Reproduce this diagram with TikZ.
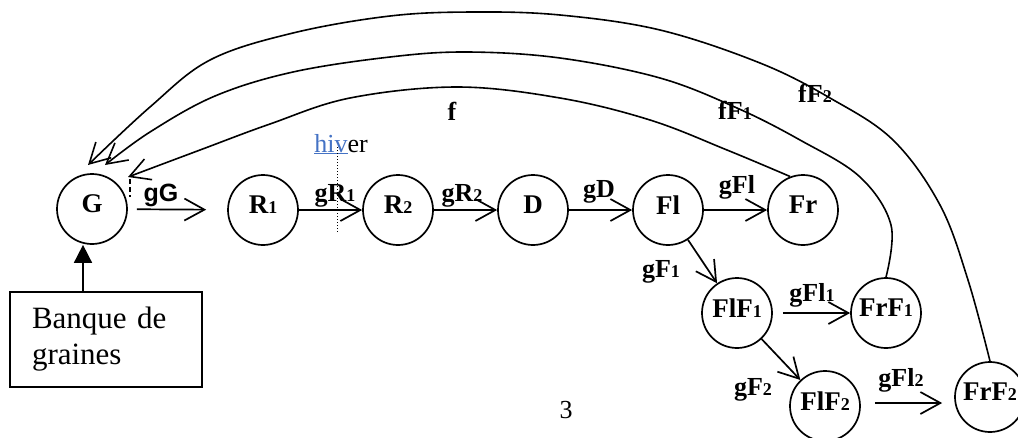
\documentclass[tikz,border=0pt]{standalone}
\usepackage{fontspec}
\setmainfont{Liberation Serif}
\setsansfont{Liberation Sans}
\usetikzlibrary{arrows.meta,calc}
\definecolor{linkblue}{RGB}{68,114,196}
\newcommand{\dg}[1]{{\fontsize{18}{18}\selectfont #1}}
\begin{document}
\begin{tikzpicture}[x=1pt,y=-1pt,line width=1.7pt,
  state/.style={circle,draw,minimum size=70pt,inner sep=0pt,
    font=\fontsize{27}{27}\selectfont\bfseries,text depth=10pt},
  elabel/.style={anchor=base,inner sep=0pt,font=\fontsize{26}{26}\selectfont\bfseries},
  flow/.style={-{Straight Barb[length=20pt,width=22pt]}},
  back/.style={flow,line width=1.6pt}
 ]
\useasboundingbox (0,0) rectangle (1018,437);

% states
\node[state] (G)    at (92,209)  {G};
\node[state] (R1)   at (263,210) {R\dg{1}};
\node[state] (R2)   at (398,210) {R\dg{2}};
\node[state] (D)    at (533,210) {D};
\node[state] (Fl)   at (668,210) {Fl};
\node[state] (Fr)   at (803,210) {Fr};
\node[state] (FlF1) at (737,313) {FlF\dg{1}};
\node[state] (FrF1) at (886,313) {FrF\dg{1}};
\node[state] (FlF2) at (825,406) {FlF\dg{2}};
\node[state] (FrF2) at (990,397) {FrF\dg{2}};

% seed bank
\node[draw,rectangle,minimum width=192pt,minimum height=95pt,inner sep=0pt,
  align=left,text width=148pt,font=\fontsize{31}{36}\selectfont]
  (bank) at (106,339.5) {Banque de\\graines};
\draw[-{Triangle[length=18pt,width=18pt]}] ([xshift=-23pt]bank.north) -- ([xshift=-23pt]bank.north |- G.south);

% forward arrows
\draw[flow,shorten <=9pt,shorten >=21pt] (G) -- (R1);
\draw[flow] (R1) -- (R2);
\draw[flow] (R2) -- (D);
\draw[flow] (D) -- (Fl);
\draw[flow] (Fl) -- (Fr);
\draw[flow] (Fl) -- (FlF1);
\draw[flow,shorten <=10pt] (FlF1) -- (FrF1);
\draw[flow] (FlF1) -- (FlF2);
\draw[flow,shorten <=14pt,shorten >=12pt] ([yshift=3pt]FlF2.east) -- ([yshift=-6pt]FrF2.west);

% arrow tips at G
\coordinate (tipf)  at ($(G)+(36,-32)$);
\coordinate (tipf1) at ($(G)+(13,-44)$);
\coordinate (tipf2) at ($(G)+(-4,-44)$);

% feedback curves
\draw[back] plot[smooth,tension=0.6] coordinates {(Fr.111) (727,150) (650,120) (560,98) (457,87) (350,98) (270,124) (200,150) (tipf)};
\draw[back] plot[smooth,tension=0.6] coordinates {(FrF1.north) (891,225) (860,177) (800,140) (737,108) (660,78) (560,58) (467,52) (390,57) (293,72) (215,96) (150,132) (tipf1)};
\draw[back] plot[smooth,tension=0.6] coordinates {(FrF2.north) (968,280) (940,205) (893,140) (830,98) (760,63) (660,30) (560,15) (473,12) (390,16) (293,33) (210,60) (150,107) (tipf2)};

% labels
\node[anchor=base,inner sep=0pt,font=\fontsize{25}{25}\selectfont\sffamily\bfseries] (lgG) at (161,201) {gG};
\node[elabel] (lgR1) at (335,201) {gR\dg{1}};
\node[elabel] (lgR2) at (462,201) {gR\dg{2}};
\node[elabel] (lgD)  at (599,197) {gD};
\node[elabel] (lgFl) at (737,193) {gFl};
\node[elabel] (lgF1) at (661,277) {gF\dg{1}};
\node[elabel] (lgFl1) at (812,301) {gFl\dg{1}};
\node[elabel] (lgF2) at (753,395) {gF\dg{2}};
\node[elabel] (lgFl2) at (901,386) {gFl\dg{2}};
\node[elabel] (lf)   at (452,120) {f};
\node[elabel] (lfF1) at (735,119) {fF\dg{1}};
\node[elabel] (lfF2) at (815,102) {fF\dg{2}};

% winter
\node[anchor=base,inner sep=0pt,font=\fontsize{26}{26}\selectfont] (hiver) at (341,152) {\textcolor{linkblue}{\underline{hiv}}er};
\draw[dotted,line width=1pt] (337,147) -- (337,233);
\draw[dash pattern=on 5pt off 3pt,line width=1.2pt] (130,179) -- (130,197);

% page number
\node[anchor=base,inner sep=0pt,font=\fontsize{26}{26}\selectfont] (pg) at (566,418) {3};
\end{tikzpicture}
\end{document}
